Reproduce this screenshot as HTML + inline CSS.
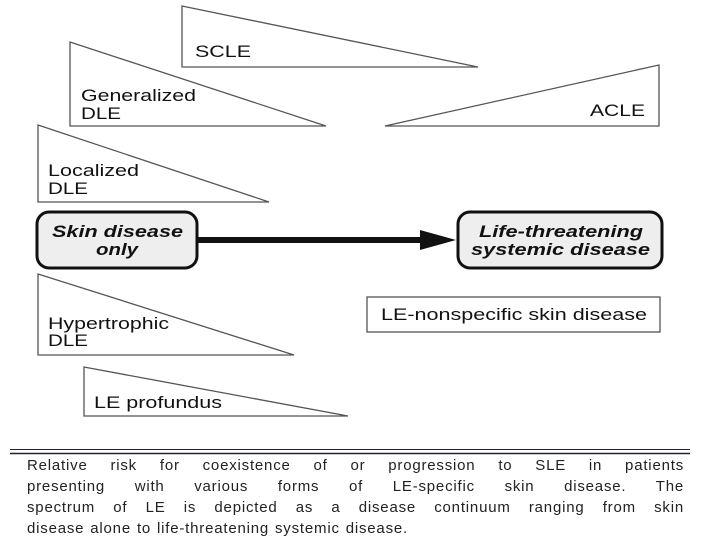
<!DOCTYPE html>
<html><head><style>
body{margin:0;background:#fff;width:720px;height:540px;overflow:hidden;position:relative;font-family:"Liberation Sans",sans-serif}
.l{position:absolute;left:27px;width:657px;font-size:15px;letter-spacing:0.8px;color:#222;text-align:justify;text-align-last:justify;white-space:nowrap;line-height:18px}
</style></head><body>
<svg width="720" height="540" style="position:absolute;left:0;top:0" font-family="Liberation Sans, sans-serif">
<g fill="#fff" stroke="#555" stroke-width="1.3">
<polygon points="182,6 182,67 478,67"/>
<polygon points="70,42 70,126 326,126"/>
<polygon points="385,126 659,65 659,126"/>
<polygon points="38,125 38,202 269,202"/>
<polygon points="38,274 38,355 294,355"/>
<polygon points="84,367 84,416 348,416"/>
<rect x="367" y="297" width="293" height="35"/>
</g>
<g font-size="17" fill="#111" lengthAdjust="spacingAndGlyphs">
<text x="195" y="57" textLength="56" lengthAdjust="spacingAndGlyphs">SCLE</text>
<text x="81" y="101" textLength="115" lengthAdjust="spacingAndGlyphs">Generalized</text>
<text x="81" y="119" textLength="40" lengthAdjust="spacingAndGlyphs">DLE</text>
<text x="590" y="116" textLength="55" lengthAdjust="spacingAndGlyphs">ACLE</text>
<text x="48" y="176" textLength="91" lengthAdjust="spacingAndGlyphs">Localized</text>
<text x="48" y="194" textLength="40" lengthAdjust="spacingAndGlyphs">DLE</text>
<text x="48" y="329" textLength="121" lengthAdjust="spacingAndGlyphs">Hypertrophic</text>
<text x="48" y="346" textLength="40" lengthAdjust="spacingAndGlyphs">DLE</text>
<text x="94" y="408" textLength="128" lengthAdjust="spacingAndGlyphs">LE profundus</text>
<text x="381" y="320" textLength="266" lengthAdjust="spacingAndGlyphs">LE-nonspecific skin disease</text>
</g>
<rect x="37" y="212" width="160" height="56" rx="12" fill="#eee" stroke="#111" stroke-width="3"/>
<rect x="458" y="212" width="204" height="56" rx="12" fill="#eee" stroke="#111" stroke-width="3"/>
<line x1="198" y1="240" x2="425" y2="240" stroke="#111" stroke-width="6"/>
<polygon points="420,230 456,240 420,250" fill="#111"/>
<g font-size="17" font-weight="bold" font-style="italic" fill="#111">
<text x="52" y="237" textLength="131" lengthAdjust="spacingAndGlyphs">Skin disease</text>
<text x="96" y="255" textLength="42" lengthAdjust="spacingAndGlyphs">only</text>
<text x="479" y="237" textLength="164" lengthAdjust="spacingAndGlyphs">Life-threatening</text>
<text x="471" y="255" textLength="179" lengthAdjust="spacingAndGlyphs">systemic disease</text>
</g>
<line x1="10" y1="449.5" x2="690" y2="449.5" stroke="#223" stroke-width="1"/>
<line x1="10" y1="453.5" x2="690" y2="453.5" stroke="#223" stroke-width="1.5"/>
</svg>
<div class="l" style="top:457px">Relative risk for coexistence of or progression to SLE in patients</div>
<div class="l" style="top:478px">presenting with various forms of LE-specific skin disease. The</div>
<div class="l" style="top:499px">spectrum of LE is depicted as a disease continuum ranging from skin</div>
<div class="l" style="top:520px;text-align-last:left;word-spacing:1px">disease alone to life-threatening systemic disease.</div>
</body></html>
